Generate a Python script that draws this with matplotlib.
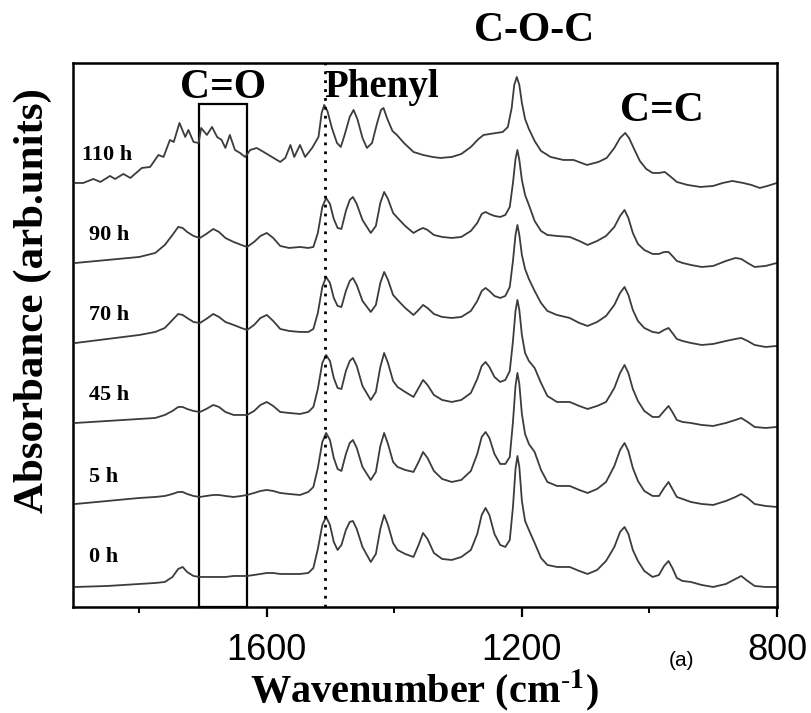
import matplotlib
matplotlib.use("Agg")
import matplotlib.pyplot as plt
from matplotlib.patches import Rectangle

plt.rcParams["mathtext.fontset"] = "stix"

# --- spectra (relative absorbance, arb. units) ---
# shared wavenumber points for the 0 h ... 90 h spectra
wn = [1900, 1850, 1800, 1775, 1760, 1748, 1739, 1732, 1725, 1715,
      1705, 1695, 1684, 1675, 1665, 1652, 1640, 1631, 1620, 1610,
      1600, 1590, 1579, 1565, 1548, 1535, 1527, 1520, 1513, 1507,
      1501, 1495, 1489, 1483, 1476, 1470, 1465, 1459, 1450, 1437,
      1429, 1422, 1416, 1410, 1402, 1395, 1383, 1370, 1362, 1355,
      1348, 1338, 1325, 1310, 1295, 1280, 1270, 1263, 1257, 1251,
      1243, 1234, 1226, 1219, 1214, 1210, 1207, 1204, 1200, 1195,
      1189, 1180, 1170, 1160, 1145, 1125, 1110, 1097, 1082, 1068,
      1055, 1046, 1039, 1033, 1026, 1018, 1008, 995, 985, 977,
      970, 964, 957, 948, 935, 918, 900, 880, 865, 856,
      846, 835, 818, 800]

ab_0h = [0.00, 0.01, 0.03, 0.04, 0.05, 0.10, 0.18, 0.20, 0.15, 0.11,
         0.10, 0.10, 0.10, 0.10, 0.10, 0.11, 0.11, 0.11, 0.12, 0.13,
         0.14, 0.14, 0.13, 0.13, 0.13, 0.14, 0.19, 0.38, 0.62, 0.70,
         0.62, 0.45, 0.37, 0.42, 0.57, 0.65, 0.66, 0.58, 0.40, 0.25,
         0.33, 0.58, 0.72, 0.62, 0.44, 0.37, 0.33, 0.30, 0.42, 0.54,
         0.48, 0.34, 0.28, 0.27, 0.30, 0.37, 0.53, 0.72, 0.79, 0.72,
         0.53, 0.42, 0.40, 0.47, 0.80, 1.18, 1.31, 1.20, 0.86, 0.66,
         0.57, 0.44, 0.29, 0.22, 0.20, 0.20, 0.16, 0.13, 0.17, 0.26,
         0.40, 0.55, 0.60, 0.53, 0.37, 0.26, 0.16, 0.10, 0.12, 0.21,
         0.26, 0.19, 0.09, 0.06, 0.05, 0.02, 0.00, 0.03, 0.08, 0.11,
         0.06, 0.01, 0.00, 0.00]

ab_5h = [0.00, 0.03, 0.06, 0.07, 0.08, 0.10, 0.12, 0.12, 0.10, 0.08,
         0.07, 0.08, 0.09, 0.09, 0.08, 0.07, 0.08, 0.09, 0.11, 0.13,
         0.14, 0.13, 0.11, 0.10, 0.09, 0.12, 0.17, 0.36, 0.62, 0.71,
         0.64, 0.46, 0.35, 0.33, 0.50, 0.61, 0.64, 0.56, 0.37, 0.24,
         0.32, 0.58, 0.71, 0.60, 0.42, 0.37, 0.34, 0.32, 0.42, 0.52,
         0.46, 0.33, 0.25, 0.22, 0.24, 0.33, 0.50, 0.67, 0.72, 0.66,
         0.50, 0.40, 0.40, 0.47, 0.82, 1.18, 1.31, 1.20, 0.90, 0.70,
         0.60, 0.52, 0.34, 0.22, 0.18, 0.18, 0.14, 0.11, 0.15, 0.22,
         0.38, 0.54, 0.61, 0.53, 0.36, 0.23, 0.13, 0.08, 0.08, 0.16,
         0.22, 0.15, 0.07, 0.05, 0.02, 0.00, -0.01, 0.03, 0.07, 0.10,
         0.06, 0.00, -0.02, -0.03]

ab_45h = [0.00, 0.02, 0.04, 0.05, 0.08, 0.12, 0.16, 0.16, 0.14, 0.12,
          0.11, 0.14, 0.18, 0.16, 0.11, 0.08, 0.08, 0.08, 0.12, 0.18,
          0.21, 0.17, 0.11, 0.10, 0.09, 0.11, 0.16, 0.34, 0.60, 0.68,
          0.62, 0.45, 0.35, 0.34, 0.52, 0.62, 0.65, 0.57, 0.37, 0.23,
          0.31, 0.56, 0.70, 0.60, 0.42, 0.36, 0.31, 0.26, 0.35, 0.43,
          0.38, 0.28, 0.23, 0.21, 0.23, 0.30, 0.44, 0.57, 0.61, 0.56,
          0.46, 0.41, 0.43, 0.52, 0.82, 1.12, 1.23, 1.13, 0.88, 0.70,
          0.62, 0.55, 0.40, 0.27, 0.21, 0.21, 0.17, 0.14, 0.17, 0.21,
          0.35, 0.50, 0.58, 0.50, 0.34, 0.22, 0.12, 0.06, 0.06, 0.12,
          0.17, 0.11, 0.03, 0.01, 0.00, -0.02, -0.03, 0.00, 0.03, 0.05,
          0.01, -0.04, -0.05, -0.04]

ab_70h = [0.00, 0.04, 0.08, 0.11, 0.15, 0.23, 0.29, 0.28, 0.25, 0.21,
          0.20, 0.24, 0.29, 0.26, 0.21, 0.18, 0.15, 0.13, 0.18, 0.25,
          0.28, 0.22, 0.14, 0.12, 0.11, 0.11, 0.14, 0.30, 0.56, 0.66,
          0.60, 0.45, 0.37, 0.36, 0.52, 0.62, 0.65, 0.58, 0.42, 0.31,
          0.38, 0.60, 0.71, 0.63, 0.48, 0.43, 0.35, 0.28, 0.33, 0.38,
          0.35, 0.29, 0.26, 0.25, 0.26, 0.32, 0.42, 0.52, 0.55, 0.52,
          0.47, 0.45, 0.47, 0.56, 0.82, 1.08, 1.18, 1.08, 0.88, 0.74,
          0.64, 0.52, 0.40, 0.32, 0.28, 0.25, 0.20, 0.17, 0.21, 0.27,
          0.38, 0.50, 0.56, 0.48, 0.33, 0.22, 0.15, 0.11, 0.10, 0.13,
          0.15, 0.10, 0.04, 0.02, 0.00, -0.02, -0.01, 0.02, 0.04, 0.05,
          0.02, -0.02, -0.04, -0.03]

ab_90h = [0.00, 0.03, 0.06, 0.10, 0.18, 0.28, 0.36, 0.35, 0.31, 0.27,
          0.25, 0.29, 0.34, 0.31, 0.25, 0.21, 0.18, 0.16, 0.21, 0.27,
          0.30, 0.25, 0.17, 0.15, 0.16, 0.15, 0.16, 0.30, 0.56, 0.65,
          0.59, 0.44, 0.35, 0.34, 0.52, 0.63, 0.66, 0.59, 0.43, 0.30,
          0.37, 0.60, 0.71, 0.64, 0.50, 0.45, 0.37, 0.30, 0.33, 0.35,
          0.33, 0.28, 0.26, 0.25, 0.26, 0.32, 0.40, 0.49, 0.51, 0.49,
          0.47, 0.46, 0.48, 0.56, 0.80, 1.04, 1.13, 1.03, 0.83, 0.68,
          0.58, 0.42, 0.32, 0.28, 0.27, 0.26, 0.22, 0.18, 0.22, 0.27,
          0.36, 0.47, 0.53, 0.45, 0.30, 0.19, 0.13, 0.09, 0.09, 0.11,
          0.11, 0.07, 0.02, 0.00, -0.02, -0.04, -0.03, 0.02, 0.05, 0.04,
          0.00, -0.04, -0.03, 0.00]

# the 110 h spectrum is noisier, so it has its own points
wn_110h = [1900, 1888, 1872, 1861, 1846, 1838, 1825, 1814, 1796, 1783,
           1770, 1762, 1752, 1746, 1737, 1728, 1723, 1715, 1707, 1703,
           1694, 1686, 1678, 1671, 1665, 1658, 1650, 1642, 1634, 1626,
           1616, 1605, 1592, 1579, 1571, 1563, 1557, 1548, 1540, 1529,
           1519, 1514, 1510, 1505, 1498, 1490, 1484, 1478, 1470, 1464,
           1458, 1450, 1443, 1435, 1427, 1421, 1417, 1411, 1403, 1396,
           1385, 1370, 1355, 1340, 1328, 1310, 1295, 1280, 1268, 1260,
           1250, 1240, 1230, 1222, 1216, 1212, 1208, 1204, 1200, 1195,
           1189, 1180, 1170, 1155, 1135, 1119, 1098, 1080, 1067, 1055,
           1046, 1038, 1032, 1024, 1015, 1005, 995, 985, 976, 968,
           957, 940, 920, 900, 885, 870, 853, 840, 827, 815,
           800]
ab_110h = [0.00, 0.00, 0.04, 0.01, 0.07, 0.04, 0.09, 0.05, 0.15, 0.16,
           0.28, 0.26, 0.43, 0.41, 0.60, 0.46, 0.53, 0.41, 0.40, 0.55,
           0.48, 0.56, 0.46, 0.43, 0.35, 0.48, 0.33, 0.30, 0.26, 0.33,
           0.35, 0.31, 0.26, 0.21, 0.25, 0.38, 0.26, 0.38, 0.26, 0.35,
           0.46, 0.70, 0.78, 0.72, 0.55, 0.40, 0.36, 0.48, 0.66, 0.73,
           0.64, 0.45, 0.35, 0.40, 0.60, 0.73, 0.75, 0.64, 0.52, 0.48,
           0.40, 0.31, 0.28, 0.26, 0.25, 0.26, 0.29, 0.36, 0.44, 0.48,
           0.49, 0.50, 0.51, 0.56, 0.75, 0.98, 1.06, 0.98, 0.80, 0.64,
           0.54, 0.42, 0.32, 0.26, 0.23, 0.23, 0.18, 0.21, 0.25, 0.35,
           0.45, 0.50, 0.45, 0.34, 0.22, 0.14, 0.10, 0.10, 0.11, 0.07,
           0.01, -0.02, -0.04, -0.03, 0.00, 0.02, 0.00, -0.02, -0.05, -0.03,
           0.00]

times = ["0 h", "5 h", "45 h", "70 h", "90 h", "110 h"]
wavenumbers = [wn, wn, wn, wn, wn, wn_110h]
absorbances = [ab_0h, ab_5h, ab_45h, ab_70h, ab_90h, ab_110h]
offsets = [0.20, 1.03, 1.84, 2.64, 3.44, 4.24]
label_y = [0.50, 1.30, 2.12, 2.92, 3.72, 4.52]

co_band = (1631, 1706)   # C=O box
phenyl_line = 1509

serif = "Liberation Serif"
sans = "Liberation Sans"

fig = plt.figure(figsize=(8.11, 7.13), dpi=100)
ax = fig.add_axes([0.090, 0.1487, 0.868, 0.763])

for t, x, ab, off, ly in zip(times, wavenumbers, absorbances, offsets, label_y):
    ax.plot(x, [a + off for a in ab], color="#3c3c3c", lw=1.3, solid_joinstyle="round")
    ax.text(1890 if t == "110 h" else 1879, ly, t, fontfamily=serif, fontweight="bold",
            fontsize=16, va="center", ha="left")

# C=O box and phenyl marker
ax.add_patch(Rectangle((co_band[0], 0), co_band[1] - co_band[0], 5.03,
                       fill=False, ec="black", lw=1.6, clip_on=False))
ax.plot([phenyl_line, phenyl_line], [0, 5.44], color="black", ls=(0, (1, 2.2)), lw=2)

ax.text(1668, 5.19, "C=O", fontfamily=serif, fontweight="bold", fontsize=30,
        ha="center", va="center")
ax.text(1509, 5.19, "Phenyl", fontfamily=serif, fontweight="bold", fontsize=28,
        ha="left", va="center")
ax.text(1181, 5.76, "C-O-C", fontfamily=serif, fontweight="bold", fontsize=30,
        ha="center", va="center", clip_on=False)
ax.text(981, 4.96, "C=C", fontfamily=serif, fontweight="bold", fontsize=30,
        ha="center", va="center")
ax.text(0.864, -0.099, "(a)", transform=ax.transAxes, fontfamily=sans, fontsize=15,
        ha="center", va="center")

ax.set_xlim(1904, 800)
ax.set_ylim(0, 5.44)
ax.set_xticks([1600, 1200, 800])
ax.set_xticks([1800, 1400, 1000], minor=True)
ax.set_yticks([])
ax.tick_params(axis="x", which="major", direction="out", length=7, width=1.6, pad=12,
               labelsize=26)
ax.tick_params(axis="x", which="minor", direction="out", length=4, width=1.4)
for lab in ax.get_xticklabels():
    lab.set_fontfamily(sans)
for sp in ax.spines.values():
    sp.set_linewidth(1.8)

ax.set_xlabel(r"Wavenumber (cm$^{\mathbf{\text{-}1}}$)", fontfamily=serif, fontweight="bold",
              fontsize=29, labelpad=-1)
fig.text(0.041, 0.578, "Absorbance (arb.units)", rotation=90, fontfamily=serif,
         fontweight="bold", fontsize=31, ha="center", va="center")

fig.savefig("out.png", dpi=100)
